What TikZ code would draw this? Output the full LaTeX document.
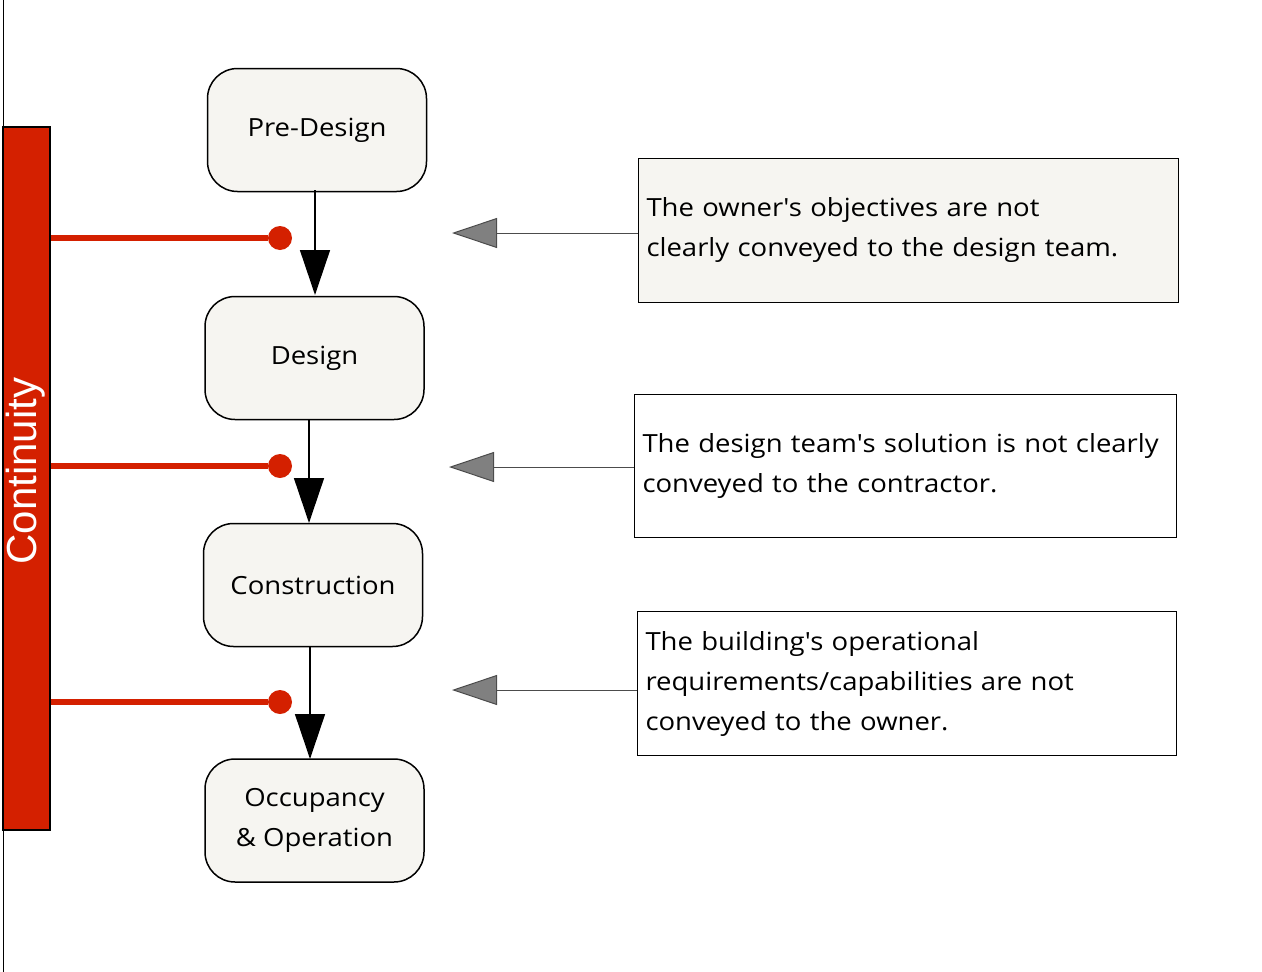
\documentclass[tikz,border=0pt]{standalone}
\usepackage{fontspec}
\setmainfont{Open Sans}
\newfontfamily\widefont[FakeStretch=1.1]{Open Sans}
\newfontfamily\barfont{Liberation Sans}
\usetikzlibrary{arrows.meta}
\definecolor{barred}{HTML}{D42000}
\definecolor{boxfill}{HTML}{F6F5F1}
\newcommand{\apos}{\textquotesingle}
\tikzset{phase/.style={
		draw,
		line width=1.5pt,
		rounded corners=30pt,
		fill=boxfill,
		minimum width=219pt,
		minimum height=123pt,
		font=\widefont\fontsize{25}{40}\selectfont},
	note/.style={
		draw,
		line width=1pt,
		fill=white,
		minimum height=144pt,
		text width=524pt,
		inner xsep=8pt,
		inner ysep=10pt,
		align=left,
		font=\widefont\fontsize{25}{40}\selectfont},
	flow/.style={line width=1.5pt, -{Triangle[width=30pt,length=45pt]}},
	hint/.style={draw=black!70, line width=1pt,
		-{Triangle[width=30pt,length=45pt,fill=black!50,color=black!70]}},
	link/.style={barred, line width=6pt},
	dot/.style={circle, fill=barred, inner sep=0pt, minimum size=24pt}
	}

\begin{document}
\begin{tikzpicture}[x=1pt,y=-1pt]
			\useasboundingbox (0,0) rectangle (1262,972);
			\draw[line width=1pt] (3,0) -- (3,972);
			\node [draw, line width=1.5pt, fill=barred, minimum width=47pt, minimum height=703pt, inner sep=0pt] (bar) at (26.5,478.5) {};
			\node [rotate=90, text=white, font=\barfont\fontsize{42}{42}\selectfont] at (26,471) {Continuity};
			\node [phase] (pre) at (317,130) {Pre-Design};
			\node [phase] (des) at (314.5,358) {Design};
			\node [phase] (con) at (313,585) {Construction};
			\node [phase, align=center] (occ) at (314.5,820.5) {Occupancy\\\& Operation};
			\draw [flow] (315,190) -- (315,295);
			\draw [flow] (309,419) -- (309,523);
			\draw [flow] (310,647) -- (310,759);
			\node [dot] (d1) at (280,238) {};
			\node [dot] (d2) at (280,466) {};
			\node [dot] (d3) at (280,702) {};
			\draw [link] (bar.east |- d1) -- (d1);
			\draw [link] (bar.east |- d2) -- (d2);
			\draw [link] (bar.east |- d3) -- (d3);
			\node [note, fill=boxfill, anchor=north west] (ob) at (638,158) {The owner\apos s objectives are not\\clearly conveyed to the design team.};
			\node [note, anchor=north west, text width=526pt, minimum height=143pt] (sol) at (634,394) {The design team\apos s solution is not clearly\\conveyed to the contractor.};
			\node [note, anchor=north west, text width=523pt] (req) at (637,611) {The building\apos s operational\\requirements/capabilities are not\\conveyed to the owner.};
			\coordinate (t1) at (452,233);
			\coordinate (t2) at (449,467);
			\coordinate (t3) at (452,690);
			\draw [hint] (ob.west |- t1) -- (t1);
			\draw [hint] (sol.west |- t2) -- (t2);
			\draw [hint] (req.west |- t3) -- (t3);
		\end{tikzpicture}
\end{document}
